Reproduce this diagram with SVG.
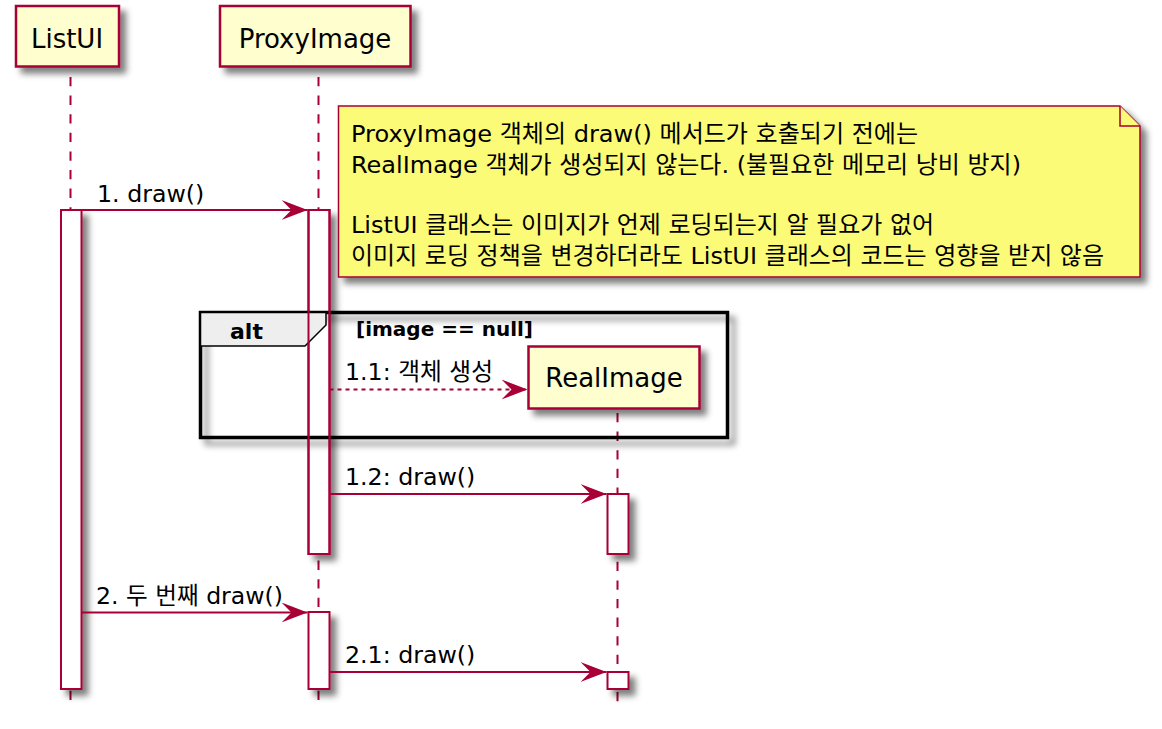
<svg xmlns="http://www.w3.org/2000/svg" width="1162" height="729" viewBox="0 0 1162 729">
<defs>
  <filter id="sh" filterUnits="userSpaceOnUse" x="0" y="0" width="1162" height="729">
    <feGaussianBlur in="SourceAlpha" stdDeviation="3"/>
    <feOffset dx="6" dy="6" result="b"/>
    <feFlood flood-color="#000" flood-opacity="0.5"/>
    <feComposite in2="b" operator="in"/>
    <feMerge><feMergeNode/><feMergeNode in="SourceGraphic"/></feMerge>
  </filter>
  <marker id="ah" viewBox="0 0 26 20" refX="26" refY="10" markerWidth="26" markerHeight="20" markerUnits="userSpaceOnUse" orient="auto">
    <polygon points="0,0 26,10 0,20 10,10" fill="#A80036"/>
  </marker>
</defs>
<style>
  .part { fill: #FEFECE; stroke: #A80036; stroke-width: 2.5; }
  .ptxt { font-family: "DejaVu Sans", "Noto Sans CJK KR", sans-serif; font-size: 26px; fill: #000; text-anchor: middle; }
  .life { stroke: #A80036; stroke-width: 2; stroke-dasharray: 9.3 9.3; fill: none; }
  .act { fill: #FFFFFF; stroke: #A80036; stroke-width: 2; }
  .actline { fill: none; stroke: #A80036; stroke-width: 2; }
  .msg { stroke: #A80036; stroke-width: 2; fill: none; }
  .dash { stroke-dasharray: 4 4; }
  .mtxt { font-family: "DejaVu Sans", "Noto Sans CJK KR", sans-serif; font-size: 23.7px; fill: #000; }
  .note { fill: #FBFB77; stroke: #A80036; stroke-width: 1.5; }
  .ntxt { font-family: "DejaVu Sans", "Noto Sans CJK KR", sans-serif; font-size: 23.7px; fill: #000; }
  .frame { fill: none; stroke: #000; stroke-width: 3.5; }
  .tab { fill: #EEEEEE; stroke: #000; stroke-width: 1.5; }
  .btxt { font-family: "DejaVu Sans", "Noto Sans CJK KR", sans-serif; font-weight: bold; fill: #000; }
</style>
<rect x="0" y="0" width="1162" height="729" fill="#FFFFFF"/>

<g id="lifelines">
  <line class="life" x1="70.5" y1="77" x2="70.5" y2="706"/>
  <line class="life" x1="318.5" y1="77" x2="318.5" y2="706"/>
  <line class="life" x1="617.5" y1="413" x2="617.5" y2="706"/>
</g>

<g id="ListUI">
  <rect class="part" x="16" y="6" width="103" height="60.5" filter="url(#sh)"/>
  <text class="ptxt" x="67" y="47.5">ListUI</text>
</g>
<g id="ProxyImage">
  <rect class="part" x="220" y="6" width="190.5" height="60.5" filter="url(#sh)"/>
  <text class="ptxt" x="315" y="47.5">ProxyImage</text>
</g>

<g id="activations">
  <rect class="act" x="61" y="210" width="20.5" height="479" filter="url(#sh)"/>
  <rect class="act" x="308.5" y="210" width="21" height="344" filter="url(#sh)"/>
  <rect class="act" x="308.5" y="612" width="21" height="77" filter="url(#sh)"/>
  <rect class="act" x="607.5" y="494" width="21" height="60" filter="url(#sh)"/>
  <rect class="act" x="607.5" y="672" width="21" height="17" filter="url(#sh)"/>
</g>

<g id="alt">
  <rect class="frame" x="200.5" y="312.5" width="527" height="125" filter="url(#sh)"/>
  <polygon class="tab" points="200.5,312.5 326,312.5 326,325 305,346 200.5,346"/>
  <text class="btxt" x="230" y="338.5" font-size="22">alt</text>
  <text class="btxt" x="356" y="336" font-size="20">[image == null]</text>
</g>

<g id="activation-outlines">
  <rect class="actline" x="308.5" y="210" width="21" height="344"/>
</g>

<g id="RealImage">
  <rect class="part" x="528.5" y="346.5" width="171" height="62" filter="url(#sh)"/>
  <text class="ptxt" x="614" y="387">RealImage</text>
</g>

<g id="note">
  <g filter="url(#sh)">
    <polygon class="note" points="338.5,106 1120,106 1140,126 1140,277 338.5,277"/>
  </g>
  <polyline class="note" points="1120,106 1120,126 1140,126"/>
  <text class="ntxt" x="351" y="142" textLength="567" lengthAdjust="spacingAndGlyphs">ProxyImage 객체의 draw() 메서드가 호출되기 전에는</text>
  <text class="ntxt" x="351" y="172.5" textLength="670" lengthAdjust="spacingAndGlyphs">RealImage 객체가 생성되지 않는다. (불필요한 메모리 낭비 방지)</text>
  <text class="ntxt" x="351" y="233" textLength="583" lengthAdjust="spacingAndGlyphs">ListUI 클래스는 이미지가 언제 로딩되는지 알 필요가 없어</text>
  <text class="ntxt" x="351" y="263.5" textLength="753" lengthAdjust="spacingAndGlyphs">이미지 로딩 정책을 변경하더라도 ListUI 클래스의 코드는 영향을 받지 않음</text>
</g>

<g id="connectors">
  <line class="msg" x1="81.5" y1="210" x2="307.5" y2="210" marker-end="url(#ah)"/>
  <text class="mtxt" x="97" y="201.5">1. draw()</text>

  <line class="msg dash" x1="329.5" y1="389.5" x2="527.5" y2="389.5" marker-end="url(#ah)"/>
  <text class="mtxt" x="345" y="380" textLength="148" lengthAdjust="spacingAndGlyphs">1.1: 객체 생성</text>

  <line class="msg" x1="329.5" y1="494" x2="606.5" y2="494" marker-end="url(#ah)"/>
  <text class="mtxt" x="345" y="485">1.2: draw()</text>

  <line class="msg" x1="81.5" y1="612.5" x2="307.5" y2="612.5" marker-end="url(#ah)"/>
  <text class="mtxt" x="96" y="603.5" textLength="187" lengthAdjust="spacingAndGlyphs">2. 두 번째 draw()</text>

  <line class="msg" x1="329.5" y1="672" x2="606.5" y2="672" marker-end="url(#ah)"/>
  <text class="mtxt" x="345" y="663">2.1: draw()</text>
</g>
</svg>
